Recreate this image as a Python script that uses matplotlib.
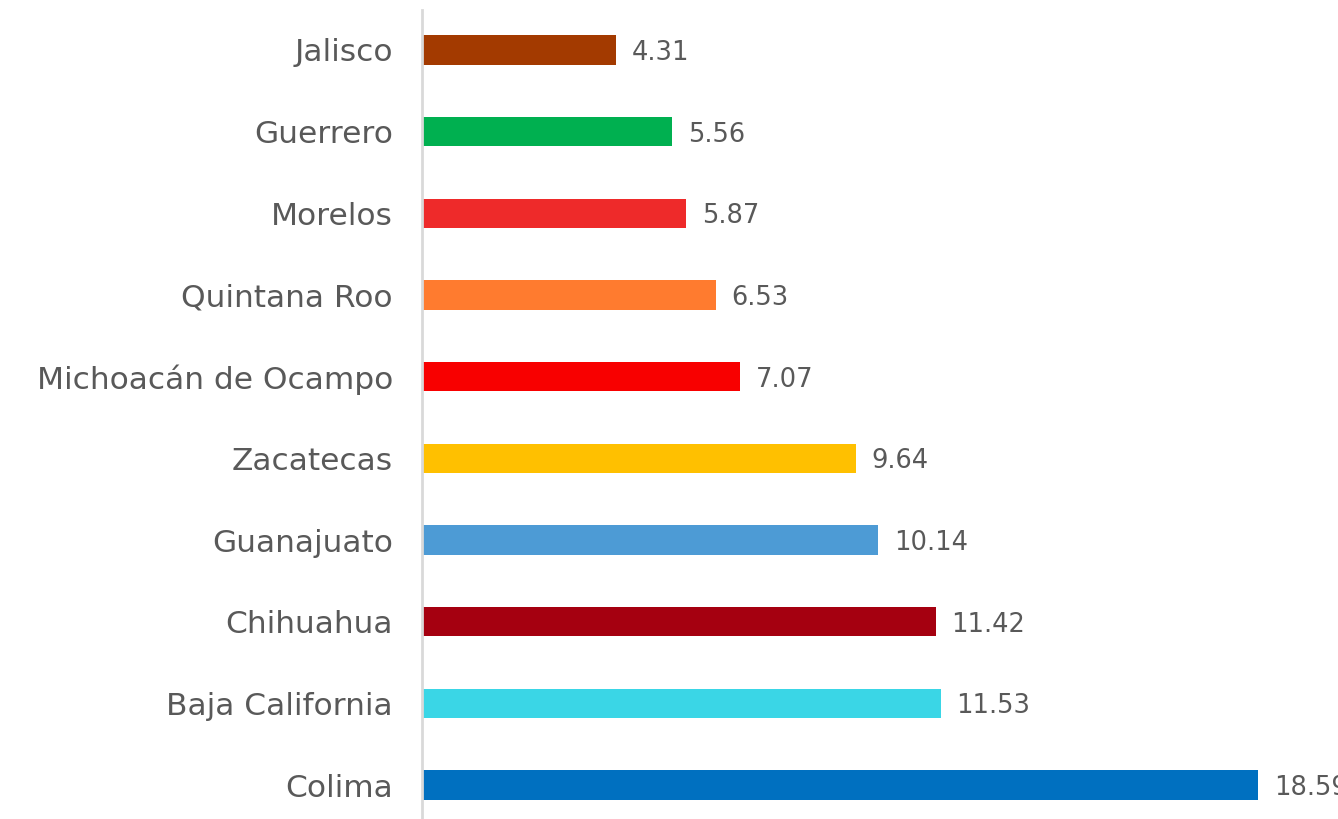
import matplotlib
matplotlib.use("Agg")
import matplotlib.pyplot as plt

states = ["Jalisco", "Guerrero", "Morelos", "Quintana Roo", "Michoacán de Ocampo",
          "Zacatecas", "Guanajuato", "Chihuahua", "Baja California", "Colima"]
values = [4.31, 5.56, 5.87, 6.53, 7.07, 9.64, 10.14, 11.42, 11.53, 18.59]
colors = ["#A33A00", "#00B050", "#EE2A2A", "#FF7B2F", "#F80000",
          "#FFC000", "#4D9BD5", "#A50010", "#3AD6E6", "#0070C0"]

plt.rcParams['font.family'] = ['DejaVu Sans']

W, H = 1338, 819
fig = plt.figure(figsize=(W / 100, H / 100), dpi=100)
ax_left = 422 / W
ax_top = 1 - 10 / H
ax = fig.add_axes([ax_left, 0, 1 - ax_left, ax_top])

ypos = list(range(len(states)))
ax.barh(ypos, values, height=0.36, color=colors)

px_per_unit = (1258 - 422) / 18.59
ax.set_xlim(0, (W - 422) / px_per_unit)
ax.set_ylim(9 + 34 / 81.67, -40 / 81.67)

ax.set_yticks(ypos)
ax.set_yticklabels(states, fontsize=22.5, color="#595959")
ax.tick_params(axis='y', length=0, pad=21)
ax.set_xticks([])

for s in ["top", "right", "bottom"]:
    ax.spines[s].set_visible(False)
ax.spines["left"].set_color("#D9D9D9")
ax.spines["left"].set_linewidth(2)

for y, v in zip(ypos, values):
    ax.text(v + 16 / px_per_unit, y, f"{v:.2f}", va="center_baseline", ha="left",
            fontsize=18.5, color="#595959", clip_on=False)

fig.savefig("out.png", dpi=100)
